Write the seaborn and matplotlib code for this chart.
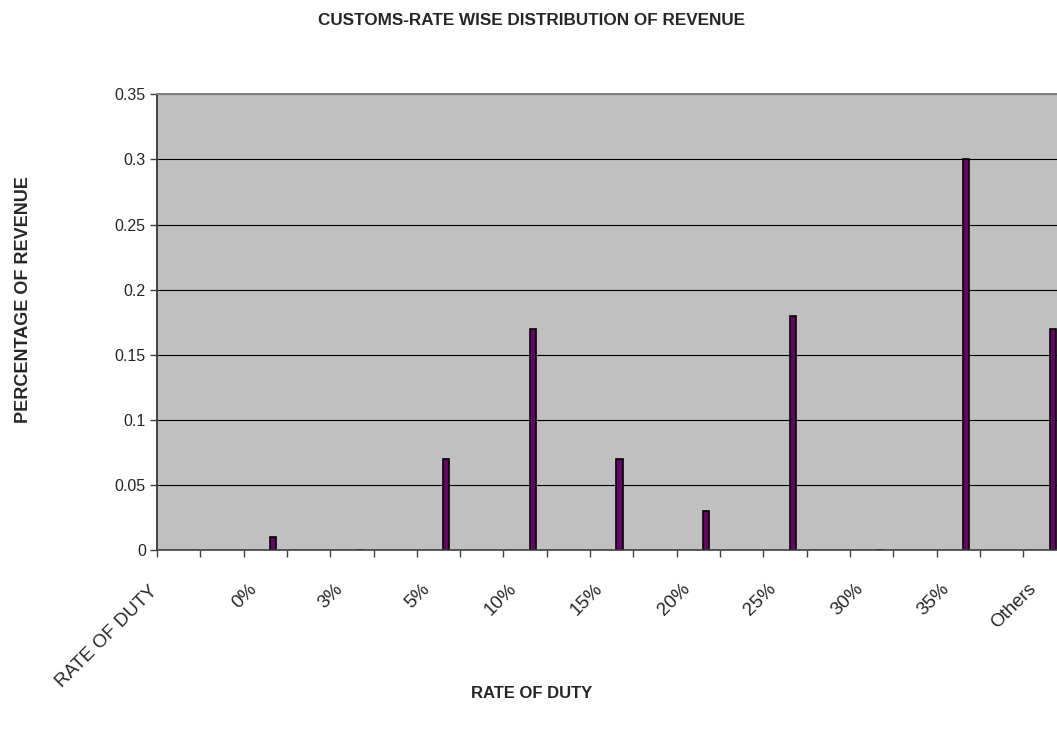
#! /usr/bin/env python
"""
Customs-rate wise distribution of revenue, drawn Excel style
"""

import numpy as np
import pandas as pd
import seaborn as sns
import matplotlib.pyplot as plt
from matplotlib.transforms import ScaledTranslation

categories = ["RATE OF DUTY", "0%", "3%", "5%", "10%", "15%",
              "20%", "25%", "30%", "35%", "Others"]
revenue = [np.nan, 0.01, 0.0, 0.07, 0.17, 0.07, 0.03, 0.18, 0.0, 0.30, 0.17]
y_ticks = [0, 0.05, 0.1, 0.15, 0.2, 0.25, 0.3, 0.35]
y_tick_labels = ["0", "0.05", "0.1", "0.15", "0.2", "0.25", "0.3", "0.35"]

BAR_COLOR = "#660066"
PLOT_BG = "#C0C0C0"


def run() -> None:
    df = pd.DataFrame({"Rate": categories, "Revenue": revenue})

    sns.set_theme(style="ticks")
    plt.rcParams["font.family"] = ["Liberation Sans", "DejaVu Sans"]

    fig = plt.figure(figsize=(10.57, 7.30), dpi=100)
    ax = fig.add_axes([0.1485, 0.2466, 0.8515, 0.6242])
    ax.set_facecolor(PLOT_BG)

    sns.barplot(data=df, x="Rate", y="Revenue", order=categories,
                color=BAR_COLOR, saturation=1, edgecolor="black",
                linewidth=1.2, width=0.072, ax=ax)

    # Excel category axis: ticks between half-slots, bars sit off-centre
    ax.set_xticks(np.arange(len(categories)) - 0.29)
    ax.set_xticklabels(categories, rotation=45, ha="right",
                       rotation_mode="anchor", fontsize=13.5)
    ax.set_xticks(-0.34 + 0.5 * np.arange(21), minor=True)
    ax.tick_params(axis="x", which="major", length=0, pad=22)
    ax.tick_params(axis="x", which="minor", length=5, width=1,
                   color="#404040", direction="out")
    # Excel nudges the long first label to stay inside the chart
    first = ax.get_xticklabels()[0]
    first.set_transform(first.get_transform()
                        + ScaledTranslation(-0.12, -0.02, fig.dpi_scale_trans))

    ax.set_yticks(y_ticks)
    ax.set_yticklabels(y_tick_labels, fontsize=11.5)
    ax.tick_params(axis="y", length=5, width=1, color="#404040",
                   pad=3, direction="out")
    # limits last, so the tick calls cannot widen them
    ax.set_xlim(-0.34, 10.05)
    ax.set_ylim(0, 0.35)

    ax.yaxis.grid(True, color="black", linewidth=0.8)
    ax.set_axisbelow(True)

    ax.spines["left"].set_color("#404040")
    ax.spines["left"].set_linewidth(1.4)
    ax.spines["bottom"].set_color("#404040")
    ax.spines["bottom"].set_linewidth(1.2)
    ax.spines["top"].set_color("#808080")
    ax.spines["top"].set_linewidth(1.4)
    ax.spines["right"].set_visible(False)

    ax.set_xlabel("")
    ax.set_ylabel("")
    fig.text(0.503, 0.972, "CUSTOMS-RATE WISE DISTRIBUTION OF REVENUE",
             ha="center", va="center", fontsize=12.3, fontweight="bold")
    fig.text(0.022, 0.589, "PERCENTAGE OF REVENUE", rotation=90,
             ha="center", va="center", fontsize=13, fontweight="bold")
    fig.text(0.503, 0.05, "RATE OF DUTY",
             ha="center", va="center", fontsize=12, fontweight="bold")

    plt.savefig("out.png", dpi=100)


if __name__ == "__main__":
    run()
